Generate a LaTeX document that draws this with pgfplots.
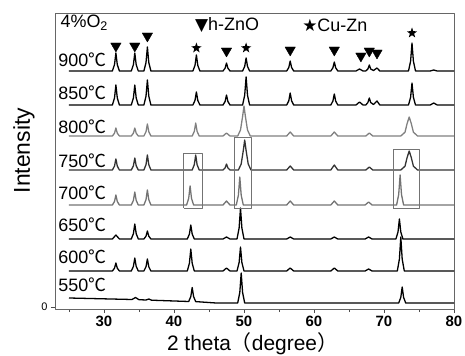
\documentclass[border=0pt]{standalone}
\usepackage{fontspec}
\setmainfont{Liberation Sans}
\newfontfamily\cjk{Noto Sans CJK SC}
\newfontfamily\dejavu{DejaVu Sans}
\usepackage{pgfplots}
\pgfplotsset{compat=1.18}
\pgfdeclareplotmark{fstar}{%
  \pgfpathmoveto{\pgfpointpolar{90}{\pgfplotmarksize}}%
  \pgfpathlineto{\pgfpointpolar{126}{0.4\pgfplotmarksize}}%
  \pgfpathlineto{\pgfpointpolar{162}{\pgfplotmarksize}}%
  \pgfpathlineto{\pgfpointpolar{198}{0.4\pgfplotmarksize}}%
  \pgfpathlineto{\pgfpointpolar{234}{\pgfplotmarksize}}%
  \pgfpathlineto{\pgfpointpolar{270}{0.4\pgfplotmarksize}}%
  \pgfpathlineto{\pgfpointpolar{306}{\pgfplotmarksize}}%
  \pgfpathlineto{\pgfpointpolar{342}{0.4\pgfplotmarksize}}%
  \pgfpathlineto{\pgfpointpolar{18}{\pgfplotmarksize}}%
  \pgfpathlineto{\pgfpointpolar{54}{0.4\pgfplotmarksize}}%
  \pgfpathclose\pgfusepathqfill}
\begin{document}
\begin{tikzpicture}
\begin{axis}[
  scale only axis, width=399bp, height=296bp,
  xmin=23, xmax=80, ymin=-2, ymax=294,
  xtick={30,40,...,80}, minor xtick={25,35,...,75},
  ytick={0},
  tick align=outside, xtick pos=bottom, ytick pos=left,
  major tick length=4bp, minor tick length=3bp,
  axis line style={black!60, line width=0.8pt},
  tick style={black!70, line width=0.6pt},
  /pgf/number format/assume math mode=true,
  xticklabel style={font=\fontsize{15}{15}\selectfont\bfseries},
  yticklabel style={font=\fontsize{11}{11}\selectfont},
  xlabel={2 theta{\cjk （}degree{\cjk ）}},
  ylabel={Intensity},
  every axis x label/.style={at={(axis description cs:0.495,-0.118)}, anchor=center, font=\fontsize{21}{21}\selectfont},
  every axis y label/.style={at={(axis description cs:-0.078,0.535)}, rotate=90, anchor=center, font=\fontsize{23}{23}\selectfont},
  clip=false,
  line join=round,
]
% 900
\addplot[black, line width=1.3pt] coordinates {
(25,236) (31.2,236) (31.5,242.3) (31.7,254) (31.9,242.3) (32.2,236)
(33.9,236) (34.2,242.3) (34.4,254) (34.6,242.3) (34.9,236)
(35.7,236) (36.0,244.4) (36.2,260) (36.4,244.4) (36.7,236)
(42.7,236) (43.0,241.6) (43.2,252) (43.4,241.6) (43.7,236)
(47.0,236) (47.3,238.8) (47.5,244) (47.7,238.8) (48.0,236)
(49.8,236) (50.1,240.6) (50.3,249) (50.5,240.6) (50.8,236)
(56.1,236) (56.4,239.5) (56.6,246) (56.8,239.5) (57.1,236)
(62.4,236) (62.7,239.2) (62.9,245) (63.1,239.2) (63.4,236)
(66.0,236) (66.5,238) (67.0,236)
(67.4,236) (67.7,238) (67.9,242) (68.1,238) (68.5,236.5) (69.0,239) (69.4,236)
(73.5,236) (73.8,245.8) (74.0,264) (74.2,245.8) (74.5,236)
(76.6,236) (77.1,237) (77.6,236) (80,236)};
% 850
\addplot[black, line width=1.3pt] coordinates {
(25,202) (31.2,202) (31.5,209) (31.7,222) (31.9,209) (32.2,202)
(33.9,202) (34.2,209) (34.4,222) (34.6,209) (34.9,202)
(35.7,202) (36.0,210.8) (36.2,227) (36.4,210.8) (36.7,202)
(42.7,202) (43.0,206.6) (43.2,215) (43.4,206.6) (43.7,202)
(47.0,202) (47.3,205.5) (47.5,212) (47.7,205.5) (48.0,202)
(49.8,202) (50.1,211.8) (50.3,230) (50.5,211.8) (50.8,202)
(56.1,202) (56.4,206.2) (56.6,214) (56.8,206.2) (57.1,202)
(62.4,202) (62.7,205.9) (62.9,213) (63.1,205.9) (63.4,202)
(66.0,202) (66.5,205) (67.0,202)
(67.4,202) (67.7,204.5) (67.9,209) (68.1,204.5) (68.5,202.5) (69.0,206) (69.4,202)
(73.5,202) (73.8,209.7) (74.0,224) (74.2,209.7) (74.5,202)
(76.6,202) (77.1,204) (77.6,202) (80,202)};
% 800
\addplot[black!50, line width=1.3pt] coordinates {
(25,171) (31.2,171) (31.5,173.8) (31.7,179) (31.9,173.8) (32.2,171)
(33.9,171) (34.2,173.8) (34.4,179) (34.6,173.8) (34.9,171)
(35.7,171) (36.0,175.2) (36.2,183) (36.4,175.2) (36.7,171)
(42.6,171) (42.9,175.6) (43.1,184) (43.3,175.6) (43.6,171)
(47.0,171) (47.5,174) (48.0,171)
(49.1,171) (49.5,177) (49.8,190.5) (50.0,201) (50.2,190.5) (50.5,177) (50.9,171)
(56.1,171) (56.6,175) (57.1,171)
(62.4,171) (62.9,175) (63.4,171)
(67.4,171) (67.9,174) (68.4,171)
(72.4,171) (73.0,174.8) (73.3,183.4) (73.6,190) (73.9,183.4) (74.2,174.8) (74.8,171)
(80,171)};
% 750
\addplot[black!80, line width=1.3pt] coordinates {
(25,137) (31.2,137) (31.5,140.9) (31.7,148) (31.9,140.9) (32.2,137)
(33.9,137) (34.2,141.2) (34.4,149) (34.6,141.2) (34.9,137)
(35.7,137) (36.0,142.3) (36.2,152) (36.4,142.3) (36.7,137)
(42.6,137) (42.9,142.3) (43.1,152) (43.3,142.3) (43.6,137)
(47.0,137) (47.3,139.1) (47.5,143) (47.7,139.1) (48.0,137)
(49.2,137) (49.6,143) (49.9,156.5) (50.1,167) (50.3,156.5) (50.6,143) (51.0,137)
(56.1,137) (56.6,141) (57.1,137)
(62.4,137) (62.9,142) (63.4,137)
(67.4,137) (67.9,140) (68.4,137)
(72.4,137) (73.0,140.8) (73.3,149.4) (73.6,156) (73.9,149.4) (74.2,140.8) (74.8,137)
(80,137)};
% 700
\addplot[black!55, line width=1.3pt] coordinates {
(25,102) (31.2,102) (31.5,105.5) (31.7,112) (31.9,105.5) (32.2,102)
(33.9,102) (34.2,106.6) (34.4,115) (34.6,106.6) (34.9,102)
(35.7,102) (36.0,107.3) (36.2,117) (36.4,107.3) (36.7,102)
(41.8,102) (42.1,108.7) (42.3,121) (42.5,108.7) (42.8,102)
(47.0,102) (47.5,106) (48.0,102)
(48.9,102) (49.2,111.8) (49.4,130) (49.6,111.8) (49.9,102)
(56.1,102) (56.6,106) (57.1,102)
(62.4,102) (62.9,106) (63.4,102)
(67.3,102) (67.8,105) (68.3,102)
(71.8,102) (72.1,112.5) (72.3,132) (72.5,112.5) (72.8,102)
(80,102)};
% 650
\addplot[black, line width=1.3pt] coordinates {
(25,68) (31.2,68) (31.7,72) (32.2,68)
(33.9,68) (34.2,73.3) (34.4,83) (34.6,73.3) (34.9,68)
(35.7,68) (36.0,70.8) (36.2,76) (36.4,70.8) (36.7,68)
(41.9,68) (42.2,72.9) (42.4,82) (42.6,72.9) (42.9,68)
(47.0,68) (47.5,70) (48.0,68)
(49.0,68) (49.3,78.9) (49.5,99) (49.7,78.9) (50.0,68)
(56.1,68) (56.6,70) (57.1,68)
(62.4,68) (62.9,70) (63.4,68)
(67.3,68) (67.8,70) (68.3,68)
(71.7,68) (72.0,75) (72.2,88) (72.4,75) (72.7,68)
(80,68)};
% 600
\addplot[black, line width=1.3pt] coordinates {
(25,36) (31.2,36) (31.5,38.8) (31.7,44) (31.9,38.8) (32.2,36)
(33.9,36) (34.2,40.6) (34.4,49) (34.6,40.6) (34.9,36)
(35.7,36) (36.0,40.2) (36.2,48) (36.4,40.2) (36.7,36)
(41.9,36) (42.2,43.7) (42.4,58) (42.6,43.7) (42.9,36)
(47.0,36) (47.5,39) (48.0,36)
(49.0,36) (49.3,44.4) (49.5,60) (49.7,44.4) (50.0,36)
(56.1,36) (56.6,39) (57.1,36)
(62.4,36) (62.9,39) (63.4,36)
(67.3,36) (67.8,38) (68.3,36)
(71.9,36) (72.2,47.9) (72.4,70) (72.6,47.9) (72.9,36)
(80,36)};
% 550
\addplot[black, line width=1.3pt] coordinates {
(25,9) (34.0,7.5) (34.5,9.5) (35.0,7.3) (36.0,7) (36.4,8) (36.8,6.8)
(42.1,5.5) (42.4,10.4) (42.6,19.5) (42.8,10.4) (43.1,5.4) (46,4)
(49.1,4) (49.4,14.5) (49.6,34) (49.8,14.5) (50.1,4)
(72.1,4) (72.4,9.6) (72.6,20) (72.8,9.6) (73.1,4) (80,4)};
% boxes
\addplot[black!55, line width=0.8pt] coordinates {(41.4,99) (44.1,99) (44.1,154) (41.4,154) (41.4,99)};
\addplot[black!55, line width=0.8pt] coordinates {(48.6,99) (51.1,99) (51.1,170) (48.6,170) (48.6,99)};
\addplot[black!55, line width=0.8pt] coordinates {(71.3,99) (75.0,99) (75.0,158) (71.3,158) (71.3,99)};
% markers
\addplot[only marks, mark=triangle*, mark size=6bp, mark options={rotate=180, fill=black, draw=black}] coordinates {
(31.7,261) (34.4,261) (36.2,271) (47.5,256) (56.6,257) (62.9,257) (66.7,251) (67.9,256) (69.0,254)};
\addplot[only marks, mark=fstar, mark size=5.5bp, mark options={fill=black}] coordinates {
(43.2,259) (50.3,259) (74.0,274)};
% texts
\node[anchor=west, font=\fontsize{18}{18}\selectfont] at (axis cs:23.3,284) {4\%O\textsubscript{2}};
\node[anchor=west, font=\fontsize{18}{18}\selectfont, inner sep=0pt] at (axis cs:43.0,282) {{\dejavu\fontsize{17}{17}\selectfont ▼}h-ZnO};
\node[anchor=west, font=\fontsize{18}{18}\selectfont, inner sep=0pt] at (axis cs:58.3,282) {{\dejavu\fontsize{17}{17}\selectfont ★}Cu-Zn};
\node[anchor=west, inner sep=0pt, font=\fontsize{18}{18}\selectfont] at (axis cs:23.45,247) {900{\cjk ℃}};
\node[anchor=west, inner sep=0pt, font=\fontsize{18}{18}\selectfont] at (axis cs:23.45,214) {850{\cjk ℃}};
\node[anchor=west, inner sep=0pt, font=\fontsize{18}{18}\selectfont] at (axis cs:23.45,180) {800{\cjk ℃}};
\node[anchor=west, inner sep=0pt, font=\fontsize{18}{18}\selectfont] at (axis cs:23.45,146) {750{\cjk ℃}};
\node[anchor=west, inner sep=0pt, font=\fontsize{18}{18}\selectfont] at (axis cs:23.45,114) {700{\cjk ℃}};
\node[anchor=west, inner sep=0pt, font=\fontsize{18}{18}\selectfont] at (axis cs:23.45,82) {650{\cjk ℃}};
\node[anchor=west, inner sep=0pt, font=\fontsize{18}{18}\selectfont] at (axis cs:23.45,50) {600{\cjk ℃}};
\node[anchor=west, inner sep=0pt, font=\fontsize{18}{18}\selectfont] at (axis cs:23.45,22) {550{\cjk ℃}};
\end{axis}
\pgfresetboundingbox
\path[use as bounding box] ([xshift=-55bp,yshift=-47bp]current axis.south west) rectangle ([xshift=11bp,yshift=13bp]current axis.north east);
\end{tikzpicture}
\end{document}
